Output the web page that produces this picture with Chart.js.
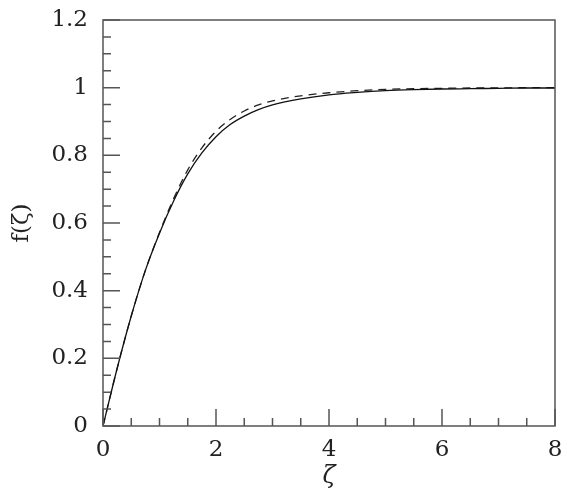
<!DOCTYPE html>
<html>
<head>
<meta charset="utf-8">
<script src="https://cdn.jsdelivr.net/npm/chart.js@4.4.0/dist/chart.umd.min.js"></script>
<style>
  html, body { margin: 0; padding: 0; background: #fff; }
  #wrap { width: 581px; height: 499px; }
</style>
</head>
<body>
<div id="wrap"><canvas id="myChart"></canvas></div>
<script>
const zeta = [0, 0.25, 0.5, 0.75, 1, 1.25, 1.5, 1.75, 2, 2.25, 2.5, 2.75, 3, 3.5, 4, 4.5, 5, 5.5, 6, 6.5, 7, 7.5, 8]
const fSolid = [0, 0.17, 0.325, 0.46, 0.57, 0.665, 0.745, 0.807, 0.855, 0.891, 0.916, 0.935, 0.949, 0.967, 0.979, 0.986, 0.991, 0.994, 0.996, 0.997, 0.998, 0.999, 0.999]
const fDashed = [0, 0.17, 0.325, 0.46, 0.572, 0.672, 0.757, 0.822, 0.871, 0.906, 0.931, 0.949, 0.961, 0.976, 0.985, 0.991, 0.995, 0.997, 0.998, 0.999, 0.999, 1.0, 1.0]
const xTicks = [0, 2, 4, 6, 8]
const yTicks = [0, 0.2, 0.4, 0.6, 0.8, 1, 1.2]

const ctx = document.getElementById('myChart')
const font = { family: 'DejaVu Serif', size: 23 }

const pts = (ys) => zeta.map((x, i) => ({ x: x, y: ys[i] }))

// frame + inward ticks, like the original plot
const frameTicks = {
  id: 'frameTicks',
  afterDraw(chart) {
    const c = chart.ctx
    const xs = chart.scales.x
    const ys = chart.scales.y
    const a = chart.chartArea
    c.save()
    c.strokeStyle = '#555'
    c.lineWidth = 1.5
    c.strokeRect(a.left, a.top, a.right - a.left, a.bottom - a.top)
    c.beginPath()
    for (let v = 0; v <= 8.001; v += 0.5) {
      const px = xs.getPixelForValue(v)
      const len = Math.abs(v % 2) < 0.01 ? 17 : 8
      c.moveTo(px, a.bottom)
      c.lineTo(px, a.bottom - len)
    }
    for (let v = 0; v <= 1.2001; v += 0.05) {
      const py = ys.getPixelForValue(v)
      const r = Math.round(v * 100) % 20
      const len = r === 0 ? 17 : 8
      c.moveTo(a.left, py)
      c.lineTo(a.left + len, py)
    }
    c.stroke()
    c.restore()
  }
}

new Chart(ctx, {
  type: 'line',
  data: {
    datasets: [{
      label: 'solid',
      data: pts(fSolid),
      borderColor: '#111',
      borderWidth: 1.3,
      pointRadius: 0,
      cubicInterpolationMode: 'monotone'
    }, {
      label: 'dashed',
      data: pts(fDashed),
      borderColor: '#222',
      borderWidth: 1.3,
      borderDash: [8, 6],
      pointRadius: 0,
      cubicInterpolationMode: 'monotone'
    }]
  },
  plugins: [frameTicks],
  options: {
    responsive: true,
    maintainAspectRatio: false,
    animation: false,
    layout: { padding: { left: 0, top: 20, right: 26, bottom: 0 } },
    plugins: { legend: { display: false }, tooltip: { enabled: false } },
    scales: {
      x: {
        type: 'linear',
        min: 0,
        max: 8,
        afterBuildTicks: (s) => { s.ticks = xTicks.map(v => ({ value: v })) },
        afterFit: (s) => { s.height = 73; s.paddingLeft = 0; s.paddingRight = 0 },
        grid: { display: false, drawTicks: false },
        border: { display: false },
        ticks: { font: font, color: '#222', padding: 10, maxRotation: 0, callback: (v) => String(v) },
        title: {
          display: true,
          text: 'ζ',
          font: { family: 'DejaVu Serif', size: 24, style: 'italic' },
          color: '#222',
          padding: { top: 0, bottom: 8 }
        }
      },
      y: {
        type: 'linear',
        min: 0,
        max: 1.2,
        afterBuildTicks: (s) => { s.ticks = yTicks.map(v => ({ value: v })) },
        afterFit: (s) => { s.width = 103; s.paddingTop = 0; s.paddingBottom = 0 },
        grid: { display: false, drawTicks: false },
        border: { display: false },
        ticks: { font: font, color: '#222', padding: 15, callback: (v) => String(+v.toFixed(1)) },
        title: {
          display: true,
          text: 'f(ζ)',
          font: font,
          color: '#222',
          padding: { top: 8, bottom: 0 }
        }
      }
    }
  }
});
</script>
</body>
</html>
